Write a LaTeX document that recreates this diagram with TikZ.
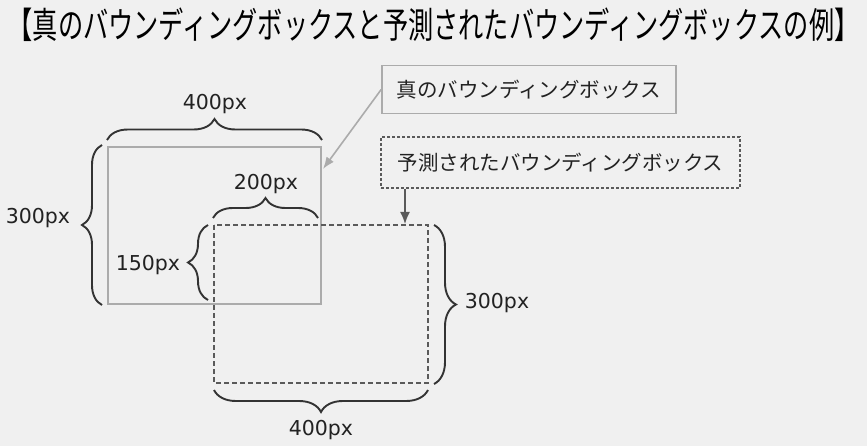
\documentclass[tikz,border=0pt]{standalone}
\usepackage{fontspec}
\usepackage{graphicx}
\setmainfont{DejaVu Sans}
\newfontfamily\jp{Noto Sans CJK JP}
\usetikzlibrary{decorations.pathreplacing,arrows.meta}
\definecolor{bgc}{HTML}{F0F0F0}
\definecolor{truec}{HTML}{ABABAB}
\definecolor{predc}{HTML}{5A5A5A}
\definecolor{bracec}{HTML}{333333}
\definecolor{txtc}{HTML}{222222}
\begin{document}
\begin{tikzpicture}[x=1pt,y=-1pt,
  dim/.style={text=txtc,font=\fontsize{20.5}{24}\selectfont,inner sep=0pt},
  brc/.style={draw=bracec,line width=1.9pt,decorate,decoration={brace,amplitude=#1,aspect=0.5}},
  brc/.default=21pt,
  truebox/.style={draw=truec,line width=1.8pt},
  predbox/.style={draw=predc,line width=1.6pt,dash pattern=on 5pt off 3pt},
  lab/.style={text=txtc,font=\jp\fontsize{20.5}{24}\selectfont,inner sep=0pt,minimum height=48pt},
]
\useasboundingbox (0,0) rectangle (867,446);
\fill[bgc] (0,0) rectangle (867,446);

% title
\node[text=black,font=\jp\fontsize{36}{42}\selectfont,inner sep=0pt] (title) at (433.5,25)
  {\scalebox{0.70}[1]{【真のバウンディングボックスと予測されたバウンディングボックスの例】}};

% rectangles
\coordinate (t1) at (108,147);
\coordinate (t2) at (321,304);
\coordinate (p1) at (214,225);
\coordinate (p2) at (428,383);
\draw[truebox] (t1) rectangle (t2);
\draw[predbox] (p1) rectangle (p2);

% label boxes
\node[lab,draw=truec,line width=1.6pt,minimum width=294pt] (tlab) at (529,89.5) {真のバウンディングボックス};
\node[lab,draw=predc,line width=1.4pt,dash pattern=on 3pt off 2pt,minimum width=359pt,minimum height=51pt] (plab) at (560.5,162.5) {予測されたバウンディングボックス};

% arrows
\coordinate (ta) at (323,169);
\draw[truec,line width=1.6pt,-{Latex[length=12pt,width=9pt]}] (tlab.west) -- (ta);
\coordinate (pa) at (405,224);
\draw[predc,line width=1.6pt,-{Latex[length=12pt,width=10pt]}] (plab.south west -| pa) -- (pa);

% braces
\coordinate (b1a) at (107,140); \coordinate (b1b) at (322,140);
\draw[brc=21pt] (b1a) -- (b1b);
\node[dim] (l1) at (215,104) {400px};

\coordinate (b2a) at (102,305); \coordinate (b2b) at (102,145);
\draw[brc=20pt] (b2a) -- (b2b);
\node[dim] (l2) at (38,218) {300px};

\coordinate (b3a) at (213,218); \coordinate (b3b) at (318,218);
\draw[brc=20pt] (b3a) -- (b3b);
\node[dim] (l3) at (266,184) {200px};

\coordinate (b4a) at (208,300); \coordinate (b4b) at (208,225);
\draw[brc=20pt] (b4a) -- (b4b);
\node[dim] (l4) at (148,265) {150px};

\coordinate (b5a) at (434,225); \coordinate (b5b) at (434,384);
\draw[brc=22pt] (b5a) -- (b5b);
\node[dim] (l5) at (497,303) {300px};

\coordinate (b6a) at (428,390); \coordinate (b6b) at (214,390);
\draw[brc=22pt] (b6a) -- (b6b);
\node[dim] (l6) at (321,430) {400px};
\end{tikzpicture}
\end{document}
